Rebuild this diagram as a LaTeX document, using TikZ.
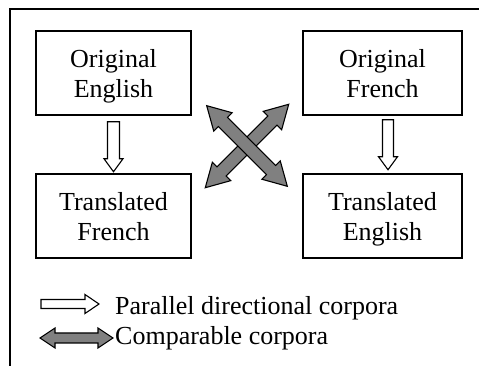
\documentclass[tikz,border=0pt]{standalone}
\usepackage{fontspec}
\setmainfont{Liberation Serif}
\usetikzlibrary{calc}
% single block arrow along +x from origin: style, length, shaft half, head half, head length
\newcommand{\sarr}[5]{\path[#1] (0,#3) -- ({#2-#5},#3) -- ({#2-#5},#4) -- (#2,0) -- ({#2-#5},-#4) -- ({#2-#5},-#3) -- (0,-#3) -- cycle;}
% double block arrow along +x from origin
\newcommand{\darr}[5]{\path[#1] (#5,#3) -- ({#2-#5},#3) -- ({#2-#5},#4) -- (#2,0) -- ({#2-#5},-#4) -- ({#2-#5},-#3) -- (#5,-#3) -- (#5,-#4) -- (0,0) -- (#5,#4) -- cycle;}
\newcommand{\twolines}[2]{\rule{0pt}{24pt}#1\\#2\vphantom{g}}
\begin{document}
\begin{tikzpicture}[x=1pt,y=1pt,
  corpus/.style={draw, line width=1.5pt, align=center, font=\fontsize{26}{30}\selectfont, inner sep=0pt},
  whitearr/.style={draw, fill=white, line width=1.1pt, line join=miter},
  grayarr/.style={draw, fill=black!50, line width=1.1pt, line join=miter},
  legendtext/.style={anchor=base west, inner sep=0pt, font=\fontsize{26}{30}\selectfont}]
\useasboundingbox (0,0) rectangle (479,366);
\draw[line width=1.5pt] (10,-10) -- (10,357) -- (495,357);
\node[corpus, minimum width=155, minimum height=84] (oe) at (113.5,293) {\twolines{Original}{English}};
\node[corpus, minimum width=159, minimum height=84] (of) at (382.5,293) {\twolines{Original}{French}};
\node[corpus, minimum width=155, minimum height=84] (tf) at (113.5,150) {\twolines{Translated}{French}};
\node[corpus, minimum width=159, minimum height=84] (te) at (382.5,150) {\twolines{Translated}{English}};
% parallel directional arrows
\begin{scope}[shift={($(oe.south)+(0,-6)$)}, rotate=-90]
  \sarr{whitearr}{50}{6}{9.5}{13}
\end{scope}
\begin{scope}[shift={($(of.south)+(5.5,-4)$)}, rotate=-90]
  \sarr{whitearr}{50}{5.5}{9.5}{13}
\end{scope}
% comparable arrows
\coordinate (xc) at ($(oe.south east)!0.5!(te.north west)+(0,-1.5)$);
\begin{scope}[shift={(xc)}, rotate=45]
  \begin{scope}[shift={(-59,0)}]
    \darr{grayarr}{118}{6.5}{13}{23}
  \end{scope}
\end{scope}
\begin{scope}[shift={(xc)}, rotate=-45]
  \begin{scope}[shift={(-57,0)}]
    \darr{grayarr}{114}{6.5}{13}{23}
  \end{scope}
\end{scope}
% legend
\begin{scope}[shift={(41,62)}]
  \sarr{whitearr}{58}{4.5}{9.5}{14}
\end{scope}
\node[legendtext] (l1) at (115,51) {Parallel directional corpora};
\begin{scope}[shift={(40,28)}]
  \darr{grayarr}{73}{5}{10}{15}
\end{scope}
\node[legendtext] (l2) at (115,21) {Comparable corpora};
\end{tikzpicture}
\end{document}
